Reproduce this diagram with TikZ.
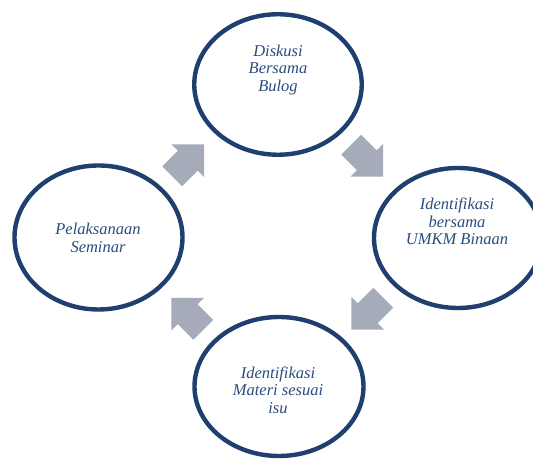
\documentclass[tikz,border=0pt]{standalone}
\usepackage{fontspec}
\setmainfont{Liberation Serif}
\usetikzlibrary{shapes.geometric}
\definecolor{ringblue}{HTML}{1F3F6E}
\definecolor{txtblue}{HTML}{2B4C7E}
\definecolor{arrowgray}{HTML}{A6ABBA}
\tikzset{
  ring/.style={ellipse, draw=ringblue, line width=4.4pt, fill=white, inner sep=0pt},
  lbl/.style={align=center, text=txtblue, font=\fontsize{16.5}{17.5}\selectfont\itshape, inner sep=0pt},
  blockarrow/.style={fill=arrowgray, draw=none}
}
\newcommand{\blockarrowpath}{(-23,-14) -- (-1,-14) -- (-1,-23) -- (22,0) -- (-1,23) -- (-1,14) -- (-23,14) -- cycle}
\begin{document}
\begin{tikzpicture}[x=1pt,y=1pt]
\useasboundingbox (0,0) rectangle (533,460);
\clip (0,0) rectangle (533,460);
% ellipses
\node[ring, minimum width=167.5pt, minimum height=140.5pt] (top) at (278,375.5) {};
\node[ring, minimum width=168pt, minimum height=140pt] (right) at (458,222) {};
\node[ring, minimum width=168pt, minimum height=144pt] (left) at (98.5,222.5) {};
\node[ring, minimum width=169pt, minimum height=139pt] (bottom) at (279,73.5) {};
% labels
\node[lbl] (ttop) at (278,390) {Diskusi\\Bersama\\Bulog};
\node[lbl] (tright) at (457,238.5) {Identifikasi\\bersama\\UMKM Binaan};
\node[lbl] (tleft) at (98,222) {Pelaksanaan\\Seminar};
\node[lbl] (tbottom) at (278,70) {Identifikasi\\Materi sesuai\\isu};
% block arrows
\fill[blockarrow] [shift={(188.5,300)}, rotate=45] \blockarrowpath;
\fill[blockarrow] [shift={(367.5,299)}, rotate=-45] \blockarrowpath;
\fill[blockarrow] [shift={(367,146)}, rotate=-135] \blockarrowpath;
\fill[blockarrow] [shift={(187,146.5)}, rotate=135] \blockarrowpath;
\end{tikzpicture}
\end{document}
